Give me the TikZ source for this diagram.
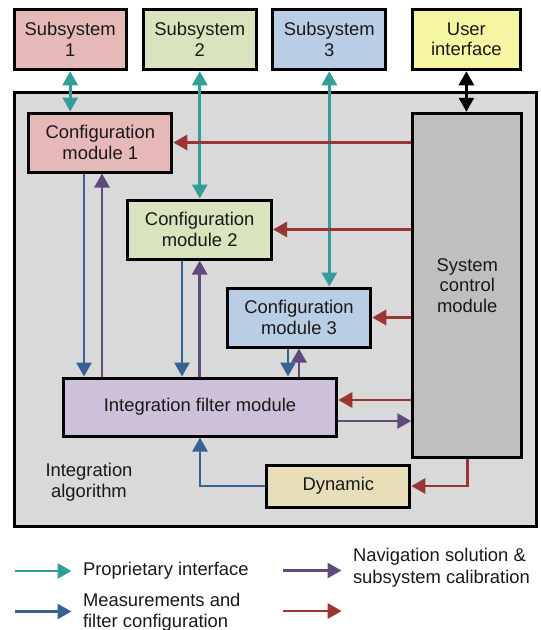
\documentclass[tikz,border=0pt]{standalone}
\usepackage{fontspec}
\setmainfont{Liberation Sans}
\usepackage{xcolor}
\usepackage{tikz}
\usetikzlibrary{arrows.meta}

\definecolor{fillone}{HTML}{E6B9B8}
\definecolor{filltwo}{HTML}{D7E4BD}
\definecolor{fillthree}{HTML}{B9CDE5}
\definecolor{fillui}{HTML}{F6F6A2}
\definecolor{fillfilter}{HTML}{CCC0DA}
\definecolor{filldyn}{HTML}{E8DEBA}
\definecolor{fillctrl}{HTML}{BFBFBF}
\definecolor{fillalg}{HTML}{D9D9D9}
\definecolor{lnteal}{RGB}{51,158,152}
\definecolor{lnblue}{RGB}{54,98,148}
\definecolor{lnpurple}{RGB}{96,74,123}
\definecolor{lnred}{RGB}{152,54,52}

\begin{document}
\begin{tikzpicture}[x=1pt, y=-1pt, inner sep=0pt, line width=3pt,
	main/.style = {draw, rectangle, align=center, text=black!90, font=\fontsize{18.4}{20.5}\selectfont},
	txt/.style = {text=black!90, font=\fontsize{18.4}{20.5}\selectfont},
	link/.style = {line width=2.8pt, -{Triangle[length=14pt,width=15pt]}},
	both/.style = {line width=2.8pt, {Triangle[length=14pt,width=15pt]}-{Triangle[length=14pt,width=15pt]}}]
	\useasboundingbox (0,0) rectangle (541,630);
	\node[main, fill=fillalg, minimum width=522pt, minimum height=434.5pt] (alg) at (275.25,309.5) {};
	\node[txt, align=center] (algtxt) at (89,482) {Integration\\algorithm};
	\node[main, fill=fillone, minimum width=112.3pt, minimum height=60.5pt] (s1) at (70.2,39.5) {Subsystem\\1};
	\node[main, fill=filltwo, minimum width=113pt, minimum height=60.5pt] (s2) at (199.8,39.5) {Subsystem\\2};
	\node[main, fill=fillthree, minimum width=112.7pt, minimum height=60.5pt] (s3) at (329.3,39.5) {Subsystem\\3};
	\node[main, fill=fillui, minimum width=108.2pt, minimum height=60.5pt] (ui) at (466.4,39.5) {User\\interface};
	\node[main, fill=fillone, minimum width=143pt, minimum height=59pt] (cm1) at (100.3,142.5) {Configuration\\module 1};
	\node[main, fill=filltwo, minimum width=143.7pt, minimum height=59pt] (cm2) at (199.7,229.5) {Configuration\\module 2};
	\node[main, fill=fillthree, minimum width=143.5pt, minimum height=59pt] (cm3) at (299,317.5) {Configuration\\module 3};
	\node[main, fill=fillctrl, minimum width=109pt, minimum height=344.5pt] (scm) at (467.25,285.5) {System\\control\\module};
	\node[main, fill=fillfilter, minimum width=273.5pt, minimum height=58pt] (ifm) at (200,407) {Integration filter module};
	\node[main, fill=filldyn, minimum width=143pt, minimum height=42pt] (dyn) at (338.3,486) {Dynamic};
	% subsystems
	\draw[both, lnteal] (s1.south) -- (s1.south |- cm1.north);
	\draw[both, lnteal] (s2.south) -- (s2.south |- cm2.north);
	\draw[both, lnteal] (s3.south) -- (s3.south |- cm3.north);
	\draw[both, black] (ui.south) -- (ui.south |- scm.north);
	% control
	\draw[link, lnred] (scm.west |- cm1.east) -- (cm1.east);
	\draw[link, lnred] (scm.west |- cm2.east) -- (cm2.east);
	\draw[link, lnred] (scm.west |- cm3.east) -- (cm3.east);
	\draw[link, lnred] ([yshift=7pt]ifm.east -| scm.west) -- ([yshift=7pt]ifm.east);
	\draw[link, lnpurple] ([yshift=-14pt]ifm.east) -- ([yshift=-14pt]ifm.east -| scm.west);
	\draw[link, lnred] (scm.south) |- (dyn.east);
	\draw[link, lnblue] (dyn.west) -| (ifm.south);
	% filter
	\draw[link, lnblue] ([xshift=-16.3pt]cm1.south) -- ([xshift=-16.3pt]cm1.south |- ifm.north);
	\draw[link, lnpurple] ([xshift=1.7pt]cm1.south |- ifm.north) -- ([xshift=1.7pt]cm1.south);
	\draw[link, lnblue] ([xshift=-17.7pt]cm2.south) -- ([xshift=-17.7pt]cm2.south |- ifm.north);
	\draw[link, lnpurple] (cm2.south |- ifm.north) -- (cm2.south);
	\draw[link, lnblue] ([xshift=-11pt]cm3.south) -- ([xshift=-11pt]cm3.south |- ifm.north);
	\draw[link, lnpurple] (cm3.south |- ifm.north) -- (cm3.south);
	% legend
	\coordinate (lg1) at (15,571);
	\coordinate (lg2) at (15,611.5);
	\coordinate (lg3) at (283.3,570.5);
	\coordinate (lg4) at (283.3,611);
	\coordinate (lg4e) at (341.7,611);
	\node[txt, anchor=west] (lgprop) at (81.5,571) {Proprietary interface};
	\node[txt, anchor=west, align=left] (lgmeas) at (81.5,612) {Measurements and\\filter configuration};
	\node[txt, anchor=west, align=left, font=\fontsize{18.4}{22}\selectfont] (lgnav) at (351.5,568) {Navigation solution \&\\subsystem calibration};
	\draw[link, lnteal] (lg1) -- ([xshift=-10pt]lgprop.west);
	\draw[link, lnblue] (lg2) -- ([xshift=-10pt]lgmeas.west |- lg2);
	\draw[link, lnpurple] (lg3) -- ([xshift=-10pt]lgnav.west |- lg3);
	\draw[link, lnred] (lg4) -- (lg4e);
\end{tikzpicture}
\end{document}
